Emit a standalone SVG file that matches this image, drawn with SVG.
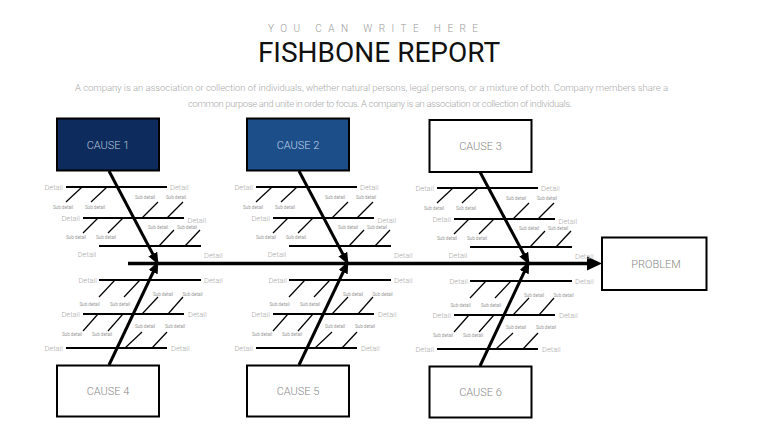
<svg xmlns="http://www.w3.org/2000/svg" width="760" height="428" viewBox="0 0 760 428">
<defs>
<style>
text{font-family:Roboto,"Liberation Sans",sans-serif}
.bone{stroke:#000;stroke-width:2;fill:none}
.sub{stroke:#000;stroke-width:1.2}
.dt{font-size:7.5px;fill:#aaa;font-weight:300}
.l{text-anchor:end}
.m{text-anchor:middle}
.sd{font-size:4.6px;fill:#999;text-anchor:middle}
.box{stroke:#000;stroke-width:2}
.ct{font-size:11px;text-anchor:middle;font-weight:300}
.arrow{stroke:#000;stroke-width:3;marker-end:url(#ah)}
</style>
<marker id="ah" markerUnits="userSpaceOnUse" markerWidth="12" markerHeight="10" refX="9" refY="5" orient="auto"><path d="M0,0 L12,5 L0,10 z" fill="#000"/></marker>
</defs>
<rect width="760" height="428" fill="#fff"/>
<g id="header">
<text x="268" y="32" font-size="10" fill="#999" textLength="210" lengthAdjust="spacing" font-weight="300">YOU CAN WRITE HERE</text>
<text x="379" y="62" font-size="28" fill="#111" text-anchor="middle">FISHBONE REPORT</text>
<text x="75" y="90.5" font-size="9.5" fill="#aaa" font-weight="300" textLength="593" lengthAdjust="spacing">A company is an association or collection of individuals, whether natural persons, legal persons, or a mixture of both. Company members share a</text>
<text x="188" y="106.5" font-size="9.5" fill="#aaa" font-weight="300" textLength="384" lengthAdjust="spacing">common purpose and unite in order to focus. A company is an association or collection of individuals.</text>
</g>
<g id="connectors">
<line x1="128" y1="263.5" x2="589" y2="263.5" stroke="#000" stroke-width="3.5"/>
<polygon points="587,256.5 602,263.5 587,270.5" fill="#000"/>
<line class="arrow" x1="109" y1="171" x2="157" y2="262"/>
<line class="arrow" x1="109" y1="365" x2="157" y2="264"/>
<line class="arrow" x1="299" y1="171" x2="347" y2="262"/>
<line class="arrow" x1="299" y1="365" x2="347" y2="264"/>
<line class="arrow" x1="480" y1="172" x2="528" y2="262"/>
<line class="arrow" x1="480" y1="366" x2="528" y2="264"/>
</g>
<g id="bones-top-1">
<line class="bone" x1="66" y1="187" x2="167" y2="187"/>
<line class="bone" x1="83" y1="218" x2="184" y2="218"/>
<line class="bone" x1="99" y1="246" x2="201" y2="246"/>
<line class="sub" x1="82" y1="187" x2="66" y2="202"/>
<line class="sub" x1="107" y1="187" x2="91" y2="202"/>
<line class="sub" x1="142" y1="218" x2="158" y2="202"/>
<line class="sub" x1="167" y1="218" x2="183" y2="202"/>
<line class="sub" x1="98" y1="218" x2="83" y2="233"/>
<line class="sub" x1="123" y1="218" x2="108" y2="233"/>
<line class="sub" x1="159" y1="246" x2="174" y2="230"/>
<line class="sub" x1="185" y1="246" x2="200" y2="230"/>
<text class="dt l" x="63" y="189.7">Detail</text>
<text class="dt" x="170" y="189.7">Detail</text>
<text class="dt l" x="80" y="220.5">Detail</text>
<text class="dt" x="187.5" y="222.5">Detail</text>
<text class="dt m" x="87" y="256.5">Detail</text>
<text class="dt" x="204" y="257.5">Detail</text>
<text class="sd" x="63" y="208.5">Sub detail</text>
<text class="sd" x="95" y="208.5">Sub detail</text>
<text class="sd" x="145" y="198.5">Sub detail</text>
<text class="sd" x="176" y="198.5">Sub detail</text>
<text class="sd" x="76" y="239">Sub detail</text>
<text class="sd" x="106" y="239">Sub detail</text>
<text class="sd" x="158" y="228.5">Sub detail</text>
<text class="sd" x="187" y="228.5">Sub detail</text>
</g>
<g id="bones-bottom-1">
<line class="bone" x1="99" y1="280" x2="201" y2="280"/>
<line class="bone" x1="83" y1="314" x2="184" y2="314"/>
<line class="bone" x1="66" y1="348" x2="167" y2="348"/>
<line class="sub" x1="115" y1="280" x2="99" y2="297"/>
<line class="sub" x1="140" y1="280" x2="124" y2="297"/>
<line class="sub" x1="142" y1="314" x2="158" y2="297"/>
<line class="sub" x1="168" y1="314" x2="183" y2="297"/>
<line class="sub" x1="98" y1="314" x2="83" y2="331"/>
<line class="sub" x1="123" y1="314" x2="108" y2="331"/>
<line class="sub" x1="125" y1="348" x2="142" y2="332"/>
<line class="sub" x1="152" y1="348" x2="167" y2="332"/>
<text class="dt l" x="97" y="282.7">Detail</text>
<text class="dt" x="204" y="282.7">Detail</text>
<text class="dt l" x="80" y="316.7">Detail</text>
<text class="dt" x="188" y="316.7">Detail</text>
<text class="dt l" x="63" y="350.7">Detail</text>
<text class="dt" x="171" y="350.7">Detail</text>
<text class="sd" x="89.5" y="305.5">Sub detail</text>
<text class="sd" x="120" y="305.5">Sub detail</text>
<text class="sd" x="163" y="295.5">Sub detail</text>
<text class="sd" x="192.5" y="295.5">Sub detail</text>
<text class="sd" x="72" y="336">Sub detail</text>
<text class="sd" x="102" y="336">Sub detail</text>
<text class="sd" x="145" y="327.5">Sub detail</text>
<text class="sd" x="175" y="327.5">Sub detail</text>
</g>
<g id="bones-top-2" transform="translate(190,0)">
<line class="bone" x1="66" y1="187" x2="167" y2="187"/>
<line class="bone" x1="83" y1="218" x2="184" y2="218"/>
<line class="bone" x1="99" y1="246" x2="201" y2="246"/>
<line class="sub" x1="82" y1="187" x2="66" y2="202"/>
<line class="sub" x1="107" y1="187" x2="91" y2="202"/>
<line class="sub" x1="142" y1="218" x2="158" y2="202"/>
<line class="sub" x1="167" y1="218" x2="183" y2="202"/>
<line class="sub" x1="98" y1="218" x2="83" y2="233"/>
<line class="sub" x1="123" y1="218" x2="108" y2="233"/>
<line class="sub" x1="159" y1="246" x2="174" y2="230"/>
<line class="sub" x1="185" y1="246" x2="200" y2="230"/>
<text class="dt l" x="63" y="189.7">Detail</text>
<text class="dt" x="170" y="189.7">Detail</text>
<text class="dt l" x="80" y="220.5">Detail</text>
<text class="dt" x="187.5" y="222.5">Detail</text>
<text class="dt m" x="87" y="256.5">Detail</text>
<text class="dt" x="204" y="257.5">Detail</text>
<text class="sd" x="63" y="208.5">Sub detail</text>
<text class="sd" x="95" y="208.5">Sub detail</text>
<text class="sd" x="145" y="198.5">Sub detail</text>
<text class="sd" x="176" y="198.5">Sub detail</text>
<text class="sd" x="76" y="239">Sub detail</text>
<text class="sd" x="106" y="239">Sub detail</text>
<text class="sd" x="158" y="228.5">Sub detail</text>
<text class="sd" x="187" y="228.5">Sub detail</text>
</g>
<g id="bones-bottom-2" transform="translate(190,0)">
<line class="bone" x1="99" y1="280" x2="201" y2="280"/>
<line class="bone" x1="83" y1="314" x2="184" y2="314"/>
<line class="bone" x1="66" y1="348" x2="167" y2="348"/>
<line class="sub" x1="115" y1="280" x2="99" y2="297"/>
<line class="sub" x1="140" y1="280" x2="124" y2="297"/>
<line class="sub" x1="142" y1="314" x2="158" y2="297"/>
<line class="sub" x1="168" y1="314" x2="183" y2="297"/>
<line class="sub" x1="98" y1="314" x2="83" y2="331"/>
<line class="sub" x1="123" y1="314" x2="108" y2="331"/>
<line class="sub" x1="125" y1="348" x2="142" y2="332"/>
<line class="sub" x1="152" y1="348" x2="167" y2="332"/>
<text class="dt l" x="97" y="282.7">Detail</text>
<text class="dt" x="204" y="282.7">Detail</text>
<text class="dt l" x="80" y="316.7">Detail</text>
<text class="dt" x="188" y="316.7">Detail</text>
<text class="dt l" x="63" y="350.7">Detail</text>
<text class="dt" x="171" y="350.7">Detail</text>
<text class="sd" x="89.5" y="305.5">Sub detail</text>
<text class="sd" x="120" y="305.5">Sub detail</text>
<text class="sd" x="163" y="295.5">Sub detail</text>
<text class="sd" x="192.5" y="295.5">Sub detail</text>
<text class="sd" x="72" y="336">Sub detail</text>
<text class="sd" x="102" y="336">Sub detail</text>
<text class="sd" x="145" y="327.5">Sub detail</text>
<text class="sd" x="175" y="327.5">Sub detail</text>
</g>
<g id="bones-top-3" transform="translate(371,1)">
<line class="bone" x1="66" y1="187" x2="167" y2="187"/>
<line class="bone" x1="83" y1="218" x2="184" y2="218"/>
<line class="bone" x1="99" y1="246" x2="201" y2="246"/>
<line class="sub" x1="82" y1="187" x2="66" y2="202"/>
<line class="sub" x1="107" y1="187" x2="91" y2="202"/>
<line class="sub" x1="142" y1="218" x2="158" y2="202"/>
<line class="sub" x1="167" y1="218" x2="183" y2="202"/>
<line class="sub" x1="98" y1="218" x2="83" y2="233"/>
<line class="sub" x1="123" y1="218" x2="108" y2="233"/>
<line class="sub" x1="159" y1="246" x2="174" y2="230"/>
<line class="sub" x1="185" y1="246" x2="200" y2="230"/>
<text class="dt l" x="63" y="189.7">Detail</text>
<text class="dt" x="170" y="189.7">Detail</text>
<text class="dt l" x="80" y="220.5">Detail</text>
<text class="dt" x="187.5" y="222.5">Detail</text>
<text class="dt m" x="87" y="256.5">Detail</text>
<text class="dt" x="204" y="257.5">Detail</text>
<text class="sd" x="63" y="208.5">Sub detail</text>
<text class="sd" x="95" y="208.5">Sub detail</text>
<text class="sd" x="145" y="198.5">Sub detail</text>
<text class="sd" x="176" y="198.5">Sub detail</text>
<text class="sd" x="76" y="239">Sub detail</text>
<text class="sd" x="106" y="239">Sub detail</text>
<text class="sd" x="158" y="228.5">Sub detail</text>
<text class="sd" x="187" y="228.5">Sub detail</text>
</g>
<g id="bones-bottom-3" transform="translate(371,1)">
<line class="bone" x1="99" y1="280" x2="201" y2="280"/>
<line class="bone" x1="83" y1="314" x2="184" y2="314"/>
<line class="bone" x1="66" y1="348" x2="167" y2="348"/>
<line class="sub" x1="115" y1="280" x2="99" y2="297"/>
<line class="sub" x1="140" y1="280" x2="124" y2="297"/>
<line class="sub" x1="142" y1="314" x2="158" y2="297"/>
<line class="sub" x1="168" y1="314" x2="183" y2="297"/>
<line class="sub" x1="98" y1="314" x2="83" y2="331"/>
<line class="sub" x1="123" y1="314" x2="108" y2="331"/>
<line class="sub" x1="125" y1="348" x2="142" y2="332"/>
<line class="sub" x1="152" y1="348" x2="167" y2="332"/>
<text class="dt l" x="97" y="282.7">Detail</text>
<text class="dt" x="204" y="282.7">Detail</text>
<text class="dt l" x="80" y="316.7">Detail</text>
<text class="dt" x="188" y="316.7">Detail</text>
<text class="dt l" x="63" y="350.7">Detail</text>
<text class="dt" x="171" y="350.7">Detail</text>
<text class="sd" x="89.5" y="305.5">Sub detail</text>
<text class="sd" x="120" y="305.5">Sub detail</text>
<text class="sd" x="163" y="295.5">Sub detail</text>
<text class="sd" x="192.5" y="295.5">Sub detail</text>
<text class="sd" x="72" y="336">Sub detail</text>
<text class="sd" x="102" y="336">Sub detail</text>
<text class="sd" x="145" y="327.5">Sub detail</text>
<text class="sd" x="175" y="327.5">Sub detail</text>
</g>
<g id="cause1"><rect class="box" x="57" y="118.5" width="102" height="52" fill="#0d2b5c"/><text class="ct" x="108" y="148.5" fill="#b8c6dd">CAUSE 1</text></g>
<g id="cause2"><rect class="box" x="247" y="118.5" width="102" height="52" fill="#1c4f8a"/><text class="ct" x="298" y="148.5" fill="#c3d2e8">CAUSE 2</text></g>
<g id="cause3"><rect class="box" x="429.5" y="120" width="102" height="52" fill="#fff"/><text class="ct" x="480.5" y="150" fill="#888">CAUSE 3</text></g>
<g id="cause4"><rect class="box" x="57" y="365.5" width="102" height="51" fill="#fff"/><text class="ct" x="108" y="395" fill="#888">CAUSE 4</text></g>
<g id="cause5"><rect class="box" x="247" y="365.5" width="102" height="51" fill="#fff"/><text class="ct" x="298" y="395" fill="#888">CAUSE 5</text></g>
<g id="cause6"><rect class="box" x="429.5" y="366.5" width="102" height="51" fill="#fff"/><text class="ct" x="480.5" y="396" fill="#888">CAUSE 6</text></g>
<g id="problem"><rect class="box" x="602" y="237.5" width="104.5" height="52.5" fill="#fff"/><text class="ct" x="656" y="268" fill="#888">PROBLEM</text></g>
</svg>
